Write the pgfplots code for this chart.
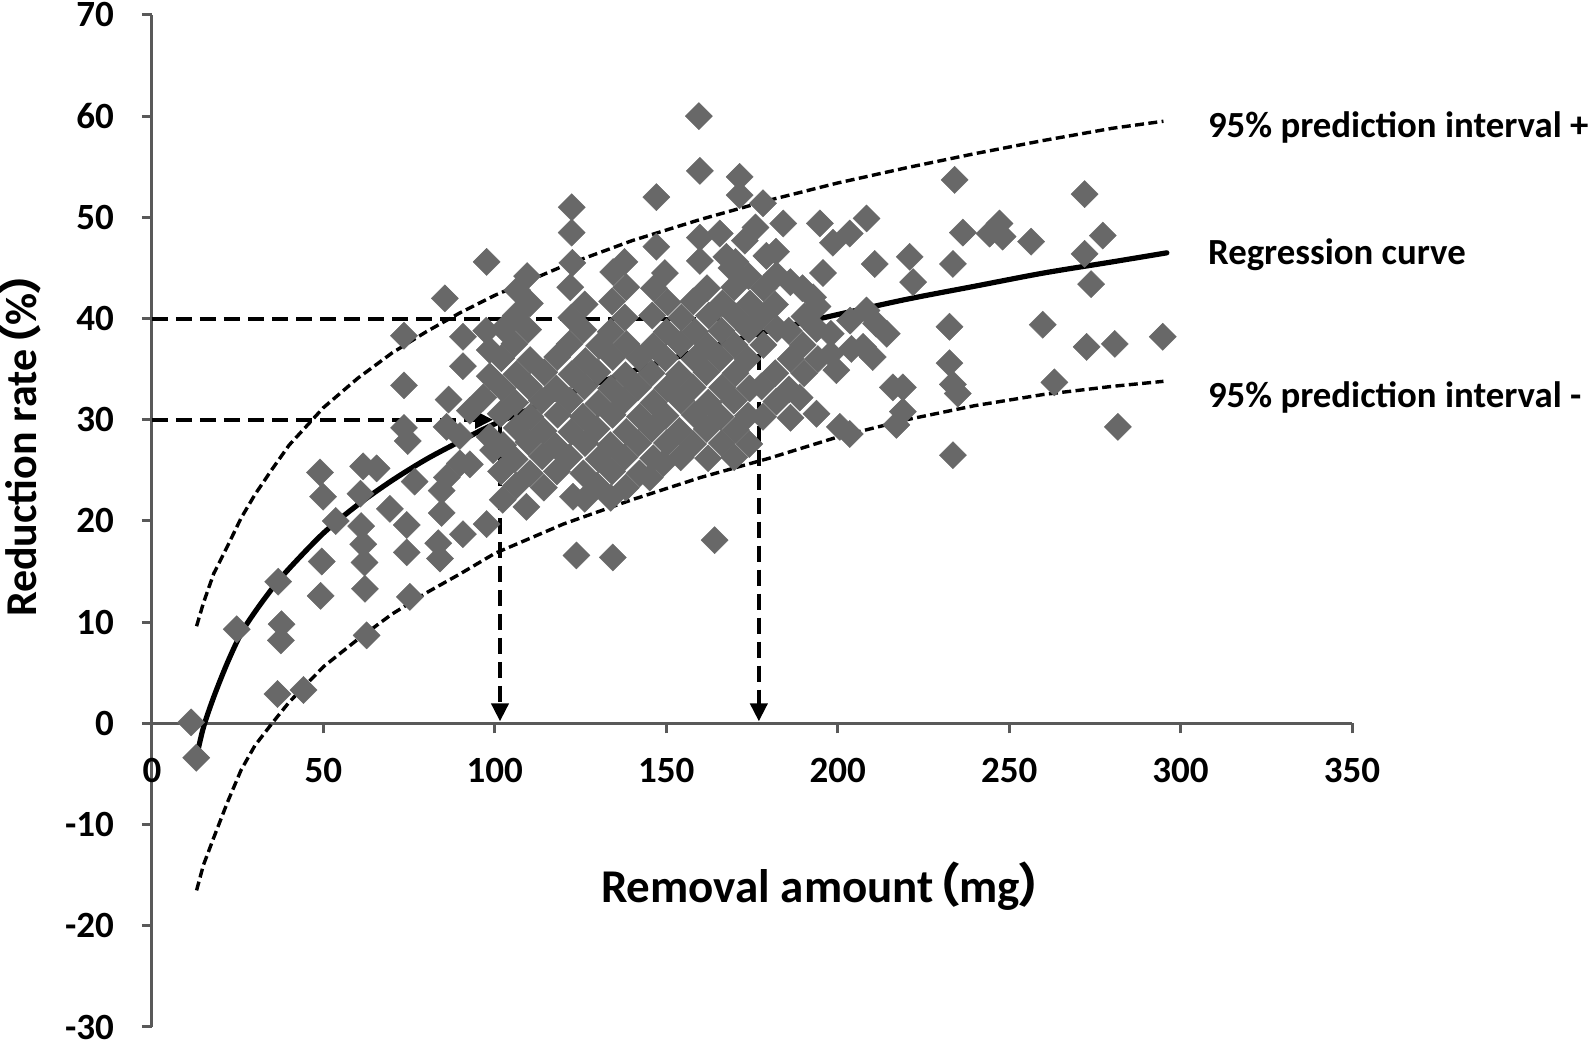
\documentclass[border=0pt]{standalone}
\usepackage{fontspec}
\setmainfont{Carlito}
\newfontfamily\cjk[RawFeature=+palt]{Noto Sans CJK JP}
\usepackage{pgfplots}
\pgfplotsset{compat=1.18}
\usetikzlibrary{arrows.meta}
\definecolor{ptgray}{HTML}{686868}
\definecolor{axgray}{HTML}{595959}

\pgfplotstableread{
x y
11.4 0.1
12.9 -3.4
24.7 9.3
36.8 14.0
37.8 9.8
37.6 8.2
36.6 2.9
44.2 3.3
49.2 12.6
49.5 16.0
49.9 22.4
49.0 24.8
53.6 20.0
61.6 25.4
65.5 25.2
60.8 22.7
61.0 19.5
61.6 17.7
62.0 15.9
62.1 13.3
62.6 8.7
69.4 21.2
74.3 16.9
74.3 19.6
76.6 23.9
75.2 12.5
83.5 17.8
84.0 16.3
84.5 20.8
84.5 23.0
86.0 24.3
89.8 25.7
90.7 18.7
97.6 19.7
73.5 38.3
73.5 33.4
73.5 29.2
74.6 27.9
85.4 42.0
86.5 32.0
85.9 29.3
89.8 28.4
90.7 38.2
90.7 35.3
92.7 30.9
96.6 32.2
97.5 38.8
98.5 36.9
98.5 34.3
98.5 28.3
99.5 27.0
97.6 45.6
92.7 25.6
109.2 21.4
122.8 22.4
123.8 16.6
134.4 16.4
164.1 18.1
102.3 22.1
101.8 24.9
102.4 27.5
101.7 30.6
102.2 33.1
101.9 36.1
102.5 39.0
106.2 23.5
105.8 26.1
106.4 29.2
105.9 31.7
106.3 34.5
105.7 37.5
106.1 40.3
106.5 42.8
110.2 24.7
109.8 27.8
110.4 30.3
109.9 33.3
110.3 35.9
109.7 38.9
110.2 41.5
109.4 44.2
114.3 23.3
113.8 26.4
114.2 28.9
113.7 31.9
114.4 34.7
118.1 24.9
117.7 27.4
118.3 30.5
117.9 33.1
118.2 36.2
121.7 26.3
122.3 28.8
121.9 31.9
122.4 34.5
121.8 37.5
122.3 40.1
122.0 43.1
122.6 45.5
126.2 22.2
125.8 24.7
126.3 27.7
125.7 30.3
126.1 33.3
126.4 35.8
125.8 38.9
126.2 41.4
129.8 23.5
130.3 26.1
129.7 29.1
130.2 31.6
129.9 34.7
130.4 37.3
133.8 22.3
134.2 24.9
133.7 27.5
134.3 30.5
133.9 33.1
134.4 36.2
133.8 38.7
134.2 41.7
134.5 44.6
138.2 23.3
137.8 26.3
138.3 28.8
137.7 31.9
138.1 34.4
138.4 37.5
137.9 40.1
138.3 43.1
137.8 45.6
142.2 24.7
141.8 27.7
142.3 30.3
141.7 33.2
142.1 36.1
145.2 24.3
146.2 26.2
145.8 29.1
146.3 31.7
145.7 34.6
146.2 37.3
145.9 40.3
146.4 43.0
149.1 25.7
150.2 27.7
149.8 30.4
150.3 33.1
149.7 36.1
150.1 38.7
150.4 41.6
149.6 44.5
154.2 26.3
153.8 28.9
154.3 31.9
153.7 34.5
154.1 37.5
154.4 40.1
157.8 27.6
158.3 30.5
157.7 33.2
158.2 36.0
158.4 38.7
157.9 41.7
162.2 26.2
161.8 29.1
162.3 31.7
161.7 34.7
162.1 37.3
162.4 40.3
161.9 43.0
166.2 27.7
165.8 30.3
166.3 33.2
165.7 36.1
166.1 38.8
166.4 41.5
169.8 26.3
170.3 29.0
169.7 31.9
170.2 34.6
169.9 37.4
170.4 40.2
169.8 43.1
170.2 45.6
174.2 27.6
173.8 30.4
174.3 33.1
173.7 36.0
174.1 38.9
174.4 41.5
174.0 44.2
178.2 30.3
177.8 33.3
178.3 37.4
177.8 40.2
178.4 43.0
182.1 31.8
181.8 34.6
182.3 39.0
181.7 41.4
182.2 44.3
182.0 46.6
186.2 30.2
185.8 33.0
186.3 36.0
185.7 38.8
186.2 43.6
190.2 34.6
189.8 37.4
190.3 40.2
189.7 43.0
194.2 36.0
193.8 39.0
194.1 41.2
198.0 38.5
204.0 37.0
203.6 39.8
159.5 60.0
159.8 54.6
171.4 54.0
147.1 52.0
122.4 51.0
122.4 48.5
171.4 52.2
178.2 51.4
184.1 49.4
172.9 47.7
179.2 46.2
165.6 48.4
159.8 48.0
159.8 45.7
167.5 46.1
147.1 47.1
176.0 49.0
169.0 45.0
194.8 49.4
198.6 47.5
208.4 49.9
210.8 45.4
195.7 44.5
192.8 42.1
208.4 40.8
214.3 38.5
210.2 36.2
216.1 33.2
199.6 34.9
198.0 36.5
188.9 32.2
193.8 30.6
200.6 29.3
217.1 29.5
219.0 30.8
234.1 53.7
272.0 52.3
236.5 48.5
247.2 49.4
244.3 48.4
248.1 48.1
256.4 47.6
277.3 48.2
272.0 46.4
273.9 43.4
221.0 46.1
233.6 45.4
222.0 43.6
232.6 39.2
259.8 39.4
272.6 37.2
280.8 37.5
294.8 38.2
232.6 35.6
233.6 33.5
235.0 32.6
219.0 33.2
263.2 33.7
281.7 29.3
233.6 26.5
211.2 39.5
207.4 37.2
203.5 28.6
203.5 48.4
}\scatterdata

\pgfplotstableread{
x y
13 -3.3
15 -0.4
18 2.6
22 6.0
26 8.9
30 11.0
35 13.3
40 15.3
50 18.8
60 21.6
70 24.0
80 26.1
90 27.9
100 29.6
120 32.4
140 34.8
160 36.9
180 38.8
200 40.4
220 41.9
240 43.2
260 44.5
280 45.6
296 46.5
}\regdata

\pgfplotstableread{
x y
13 9.6
15 11.9
18 14.8
22 17.5
26 20.3
30 22.6
35 25.1
40 27.5
50 31.2
60 34.1
70 36.6
80 38.7
90 40.6
100 42.3
120 45.2
140 47.7
160 49.8
180 51.7
200 53.4
220 54.9
240 56.3
260 57.6
280 58.8
295 59.5
}\updata

\pgfplotstableread{
x y
13 -16.5
15 -14.0
18 -11.3
22 -7.8
26 -4.6
30 -2.2
35 0.0
40 2.1
50 5.6
60 8.3
70 10.8
80 12.9
90 14.8
100 16.8
120 19.7
140 22.1
160 24.3
180 26.2
200 28.3
220 30.0
240 31.4
260 32.5
280 33.3
295 33.8
}\lowdata

\begin{document}
\begin{tikzpicture}
\begin{axis}[
  scale only axis, width=600pt, height=506pt,
  xmin=0, xmax=350, ymin=-30, ymax=70,
  axis x line=middle, axis y line=left,
  hide obscured x ticks=false, hide obscured y ticks=false,
  axis line style={draw=axgray, line width=1.5pt, -},
  xtick={0,50,...,350}, ytick={-30,-20,...,70},
  tick align=outside, major tick length=5pt,
  tick style={draw=axgray, line width=1.5pt},
  ticklabel style={font=\bfseries\fontsize{18.5}{20}\selectfont, text=black},
  xticklabel style={yshift=-9pt},
  yticklabel style={xshift=-10.5pt},
  /pgf/number format/assume math mode=true,
  clip=false,
]
\addplot[only marks, mark=square*, mark size=4.8pt,
  mark options={rotate=45, fill=ptgray, draw=ptgray, line width=0.2pt}]
  table[x=x, y=y] {\scatterdata};

\addplot[black, line width=1.7pt, dash pattern=on 4.5pt off 2.2pt, no marks] table[x=x,y=y] {\updata};
\addplot[black, line width=1.7pt, dash pattern=on 4.5pt off 2.2pt, no marks] table[x=x,y=y] {\lowdata};
\addplot[black, line width=2.6pt, line cap=round, line join=round, no marks, smooth] table[x=x,y=y] {\regdata};

\addplot[black, line width=2pt, dash pattern=on 8pt off 4pt, -{Triangle[length=9pt,width=8.5pt]}, no marks] coordinates {(0,30) (99.5,30)};
\addplot[black, line width=2pt, dash pattern=on 8pt off 4pt, -{Triangle[length=9pt,width=8.5pt]}, no marks] coordinates {(101.5,29.8) (101.5,0.2)};
\addplot[black, line width=2pt, dash pattern=on 8pt off 4pt, -{Triangle[length=9pt,width=8.5pt]}, no marks] coordinates {(0,40) (181,40)};
\addplot[black, line width=2pt, dash pattern=on 8pt off 4pt, -{Triangle[length=9pt,width=8.5pt]}, no marks] coordinates {(177,38.9) (177,0.2)};

\node[anchor=base, inner sep=0pt, font=\bfseries\fontsize{23.5}{25}\selectfont] at (axis cs:195.5,-17.7) {Removal amount\kern1pt{\cjk （}mg{\cjk ）}};
\node[anchor=base, rotate=90, inner sep=0pt, font=\bfseries\fontsize{22}{24}\selectfont] at (axis cs:-33.8,27.6) {Reduction rate\kern1pt{\cjk （}\%{\cjk ）}};
\node[anchor=base west, inner sep=0pt, font=\bfseries\fontsize{18.4}{20}\selectfont] at (axis cs:307.9,57.9) {95\% prediction interval +};
\node[anchor=base west, inner sep=0pt, font=\bfseries\fontsize{18.4}{20}\selectfont] at (axis cs:307.9,45.3) {Regression curve};
\node[anchor=base west, inner sep=0pt, font=\bfseries\fontsize{18.4}{20}\selectfont] at (axis cs:307.9,31.25) {95\% prediction interval -};
\end{axis}
\pgfresetboundingbox
\path (-76pt,-7.5pt) rectangle (720.5pt,513.5pt);
\end{tikzpicture}
\end{document}
